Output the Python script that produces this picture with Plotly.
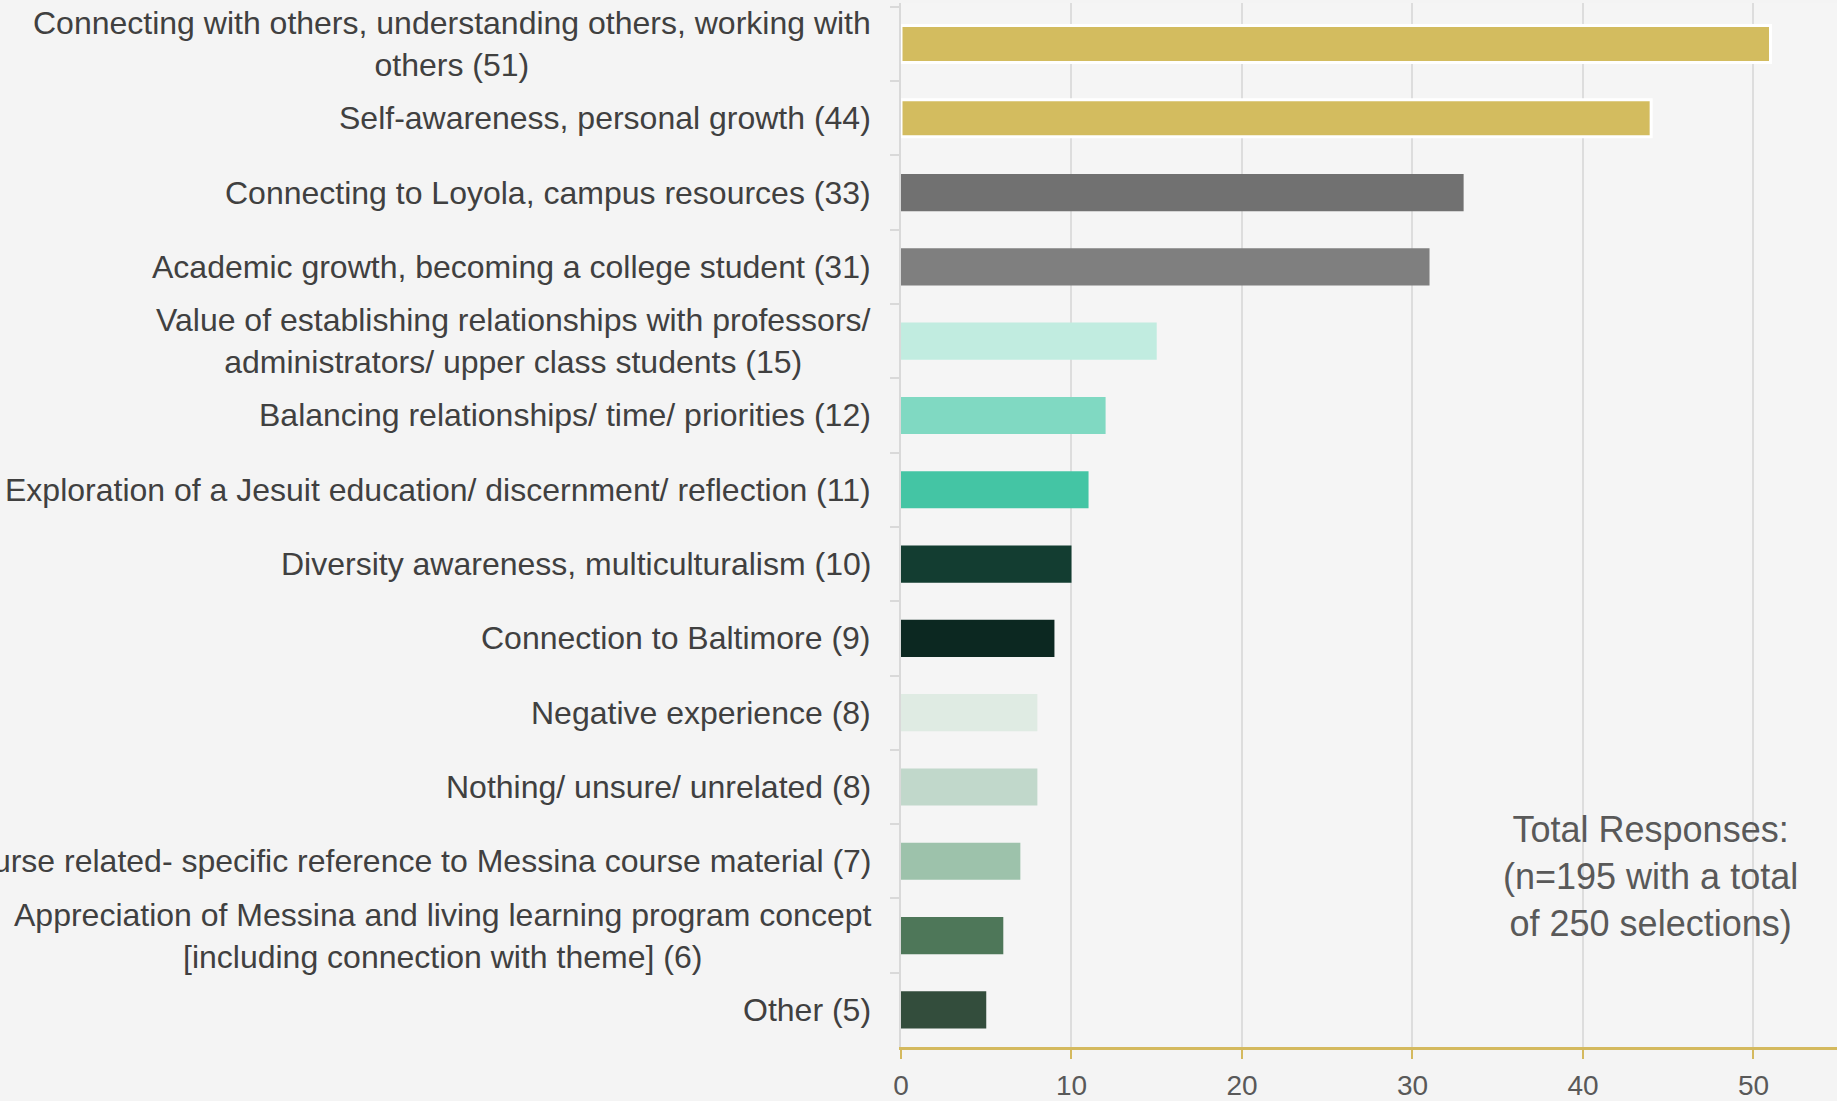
import plotly.graph_objects as go

# categories top to bottom, as shown on the slide
labels = [
    "Connecting with others, understanding others, working with<br>others (51)",
    "Self-awareness, personal growth (44)",
    "Connecting to Loyola, campus resources (33)",
    "Academic growth, becoming a college student (31)",
    "Value of establishing relationships with professors/<br>administrators/ upper class students (15)",
    "Balancing relationships/ time/ priorities (12)",
    "Exploration of a Jesuit education/ discernment/ reflection (11)",
    "Diversity awareness, multiculturalism (10)",
    "Connection to Baltimore (9)",
    "Negative experience (8)",
    "Nothing/ unsure/ unrelated (8)",
    "Course related- specific reference to Messina course material (7)",
    "Appreciation of Messina and living learning program concept<br>[including connection with theme] (6)",
    "Other (5)",
]
counts = [51, 44, 33, 31, 15, 12, 11, 10, 9, 8, 8, 7, 6, 5]
bar_colors = [
    "#D3BC5F", "#D3BC5F", "#717171", "#7F7F7F", "#C1ECE0", "#80D9C2", "#44C5A4",
    "#133D31", "#0C2821", "#DFEBE3", "#C1D8CB", "#9DC2AB", "#4E7759", "#334D3C",
]
outline_w = [3, 3] + [0] * 12
x_ticks = [0, 10, 20, 30, 40, 50]
note = "Total Responses:<br>(n=195 with a total<br>of 250 selections)"

FONT = "Liberation Sans, Arial, sans-serif"

fig = go.Figure()
fig.add_trace(go.Bar(
    x=counts,
    y=labels,
    orientation="h",
    marker=dict(color=bar_colors, line=dict(color="white", width=outline_w)),
    hoverinfo="x+y",
))

# category labels as annotations so wrapped lines are centred
for lab in labels:
    fig.add_annotation(
        x=0, y=lab, xref="x", yref="y",
        text=lab, showarrow=False,
        xanchor="right", xshift=-28, align="center",
        font=dict(family=FONT, size=32, color="#404040"),
    )

fig.add_annotation(
    x=0.801, y=0.163, xref="paper", yref="paper",
    text=note, showarrow=False, align="center",
    xanchor="center", yanchor="middle",
    font=dict(family=FONT, size=36, color="#595959"),
)

fig.update_layout(
    width=1837, height=1101,
    margin=dict(l=901, r=0, t=3, b=45),
    paper_bgcolor="#F4F4F4",
    plot_bgcolor="#F5F5F5",
    bargap=0.5,
    showlegend=False,
    font=dict(family=FONT, color="#595959"),
)
fig.update_xaxes(
    range=[0, 54.9],
    tickvals=x_ticks,
    showgrid=True, gridcolor="#DDDDDD", gridwidth=2,
    showline=True, linecolor="#D4B95E", linewidth=3,
    ticks="outside", tickcolor="#D4B95E", ticklen=9, tickwidth=2,
    ticklabelstandoff=2,
    tickfont=dict(family=FONT, size=28, color="#595959"),
    zeroline=False,
)
fig.update_yaxes(
    autorange="reversed",
    showticklabels=False,
    showline=True, linecolor="#D9D9D9", linewidth=2,
    ticks="outside", tickson="boundaries", ticklen=9, tickcolor="#D9D9D9", tickwidth=2,
    showgrid=False,
)

fig.write_html(
    "out.html",
    config={"displayModeBar": False},
    post_script="document.body.style.margin='0';",
)
